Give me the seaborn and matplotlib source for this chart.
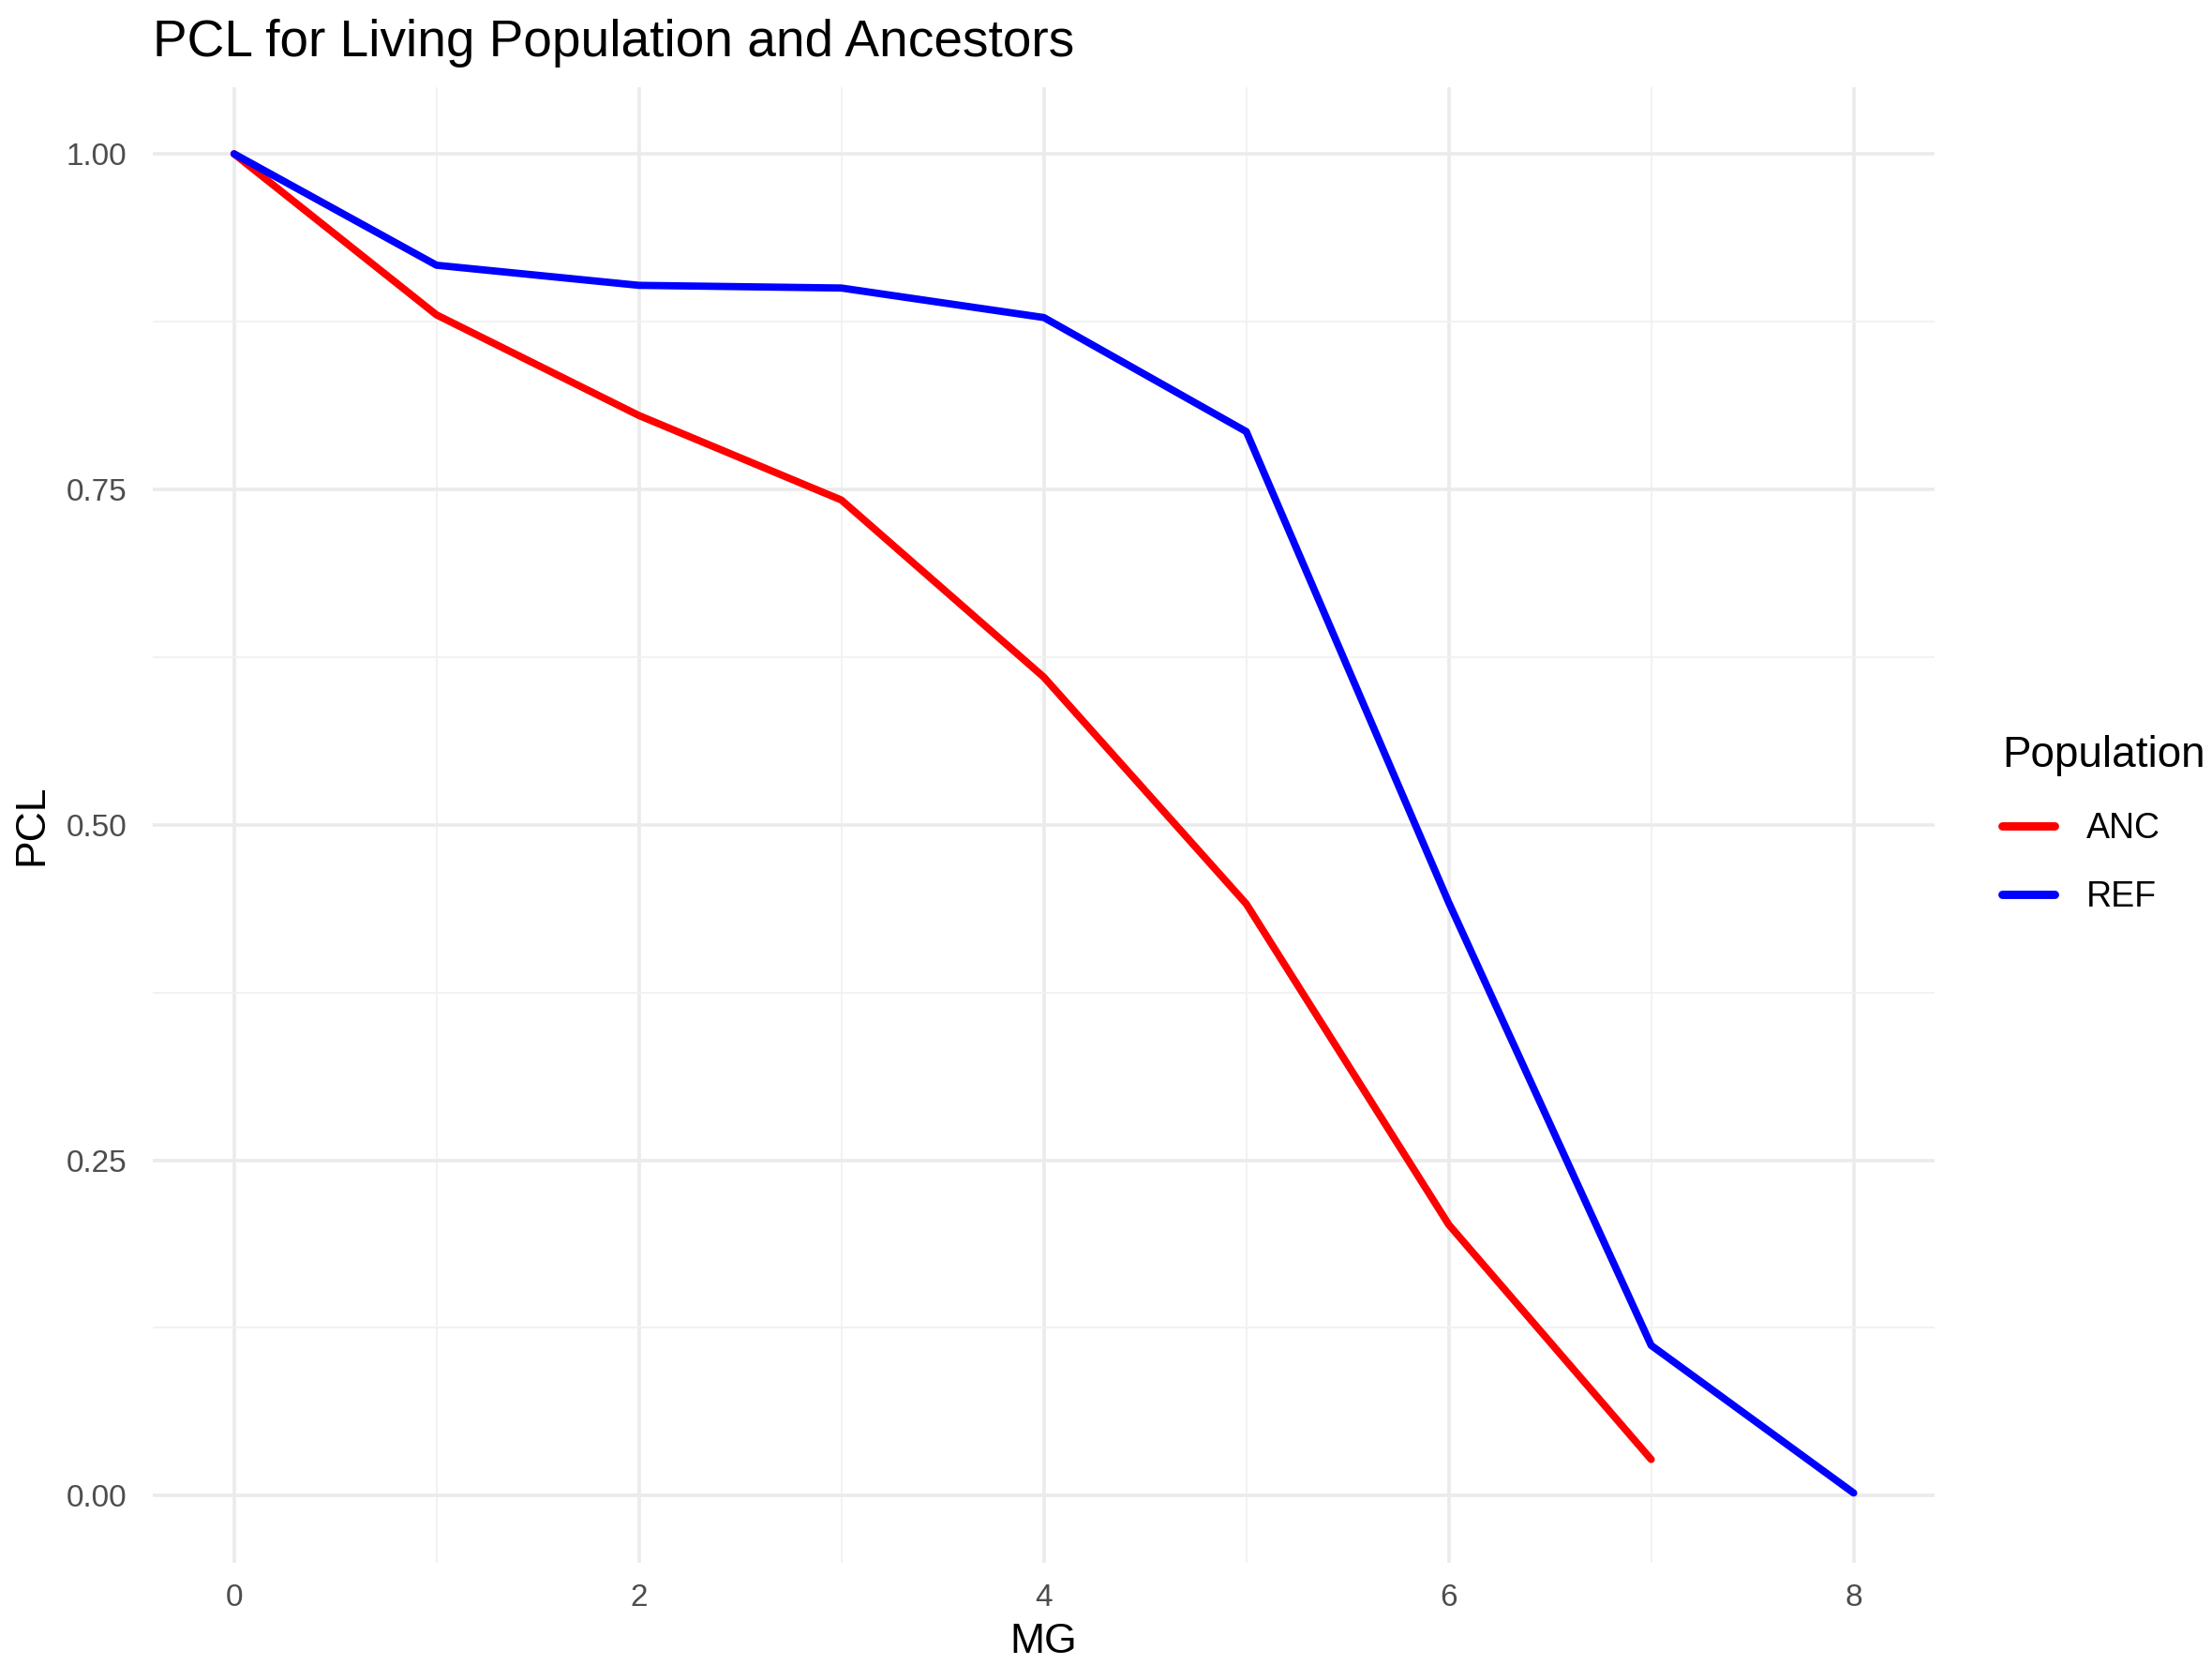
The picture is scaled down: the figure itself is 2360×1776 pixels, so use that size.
import matplotlib
matplotlib.use('Agg')
import matplotlib.pyplot as plt
import seaborn as sns
import pandas as pd
from matplotlib.ticker import MultipleLocator

# values
mg_anc = [0, 1, 2, 3, 4, 5, 6, 7]
pcl_anc = [1.00, 0.880, 0.805, 0.742, 0.610, 0.441, 0.202, 0.027]
mg_ref = [0, 1, 2, 3, 4, 5, 6, 7, 8]
pcl_ref = [1.00, 0.917, 0.902, 0.900, 0.878, 0.793, 0.442, 0.112, 0.002]

df = pd.concat([
    pd.DataFrame({'MG': mg_anc, 'PCL': pcl_anc, 'Population': 'ANC'}),
    pd.DataFrame({'MG': mg_ref, 'PCL': pcl_ref, 'Population': 'REF'}),
])

sns.set_theme(style='white')
plt.rcParams['font.family'] = ['Liberation Sans', 'DejaVu Sans']
plt.rcParams['text.color'] = 'black'
plt.rcParams['axes.labelcolor'] = 'black'

fig = plt.figure(figsize=(11.8, 8.88), dpi=200)
ax = fig.add_axes([0.0692, 0.0614, 0.8054, 0.8865])

# grid like ggplot theme_minimal
ax.xaxis.set_major_locator(MultipleLocator(2))
ax.xaxis.set_minor_locator(MultipleLocator(1))
ax.yaxis.set_major_locator(MultipleLocator(0.25))
ax.yaxis.set_minor_locator(MultipleLocator(0.125))
ax.grid(which='major', color='#EBEBEB', linewidth=1.3)
ax.grid(which='minor', color='#F2F2F2', linewidth=0.7)
ax.set_axisbelow(True)

sns.lineplot(data=df, x='MG', y='PCL', hue='Population',
             palette={'ANC': '#FF0000', 'REF': '#0000FF'},
             linewidth=2.8, ax=ax)

ax.set_xlim(-0.4, 8.4)
ax.set_ylim(-0.05, 1.05)
ax.yaxis.set_major_formatter(matplotlib.ticker.FormatStrFormatter('%.2f'))
for s in ax.spines.values():
    s.set_visible(False)
ax.tick_params(axis='x', which='both', length=0, labelsize=12, labelcolor='#4D4D4D', pad=8)
ax.tick_params(axis='y', which='both', length=0, labelsize=12, labelcolor='#4D4D4D', pad=10)
ax.set_xlabel('MG', fontsize=16, labelpad=4)
ax.set_ylabel('PCL', fontsize=16, labelpad=6)

fig.text(0.069, 0.966, 'PCL for Living Population and Ancestors',
         fontsize=19.8, ha='left', va='baseline')

leg = ax.legend(title='Population', loc='center left', bbox_to_anchor=(1.03, 0.5),
                frameon=False, fontsize=13.5, title_fontsize=16.5,
                handlelength=1.5, handletextpad=0.9, labelspacing=1.0,
                borderaxespad=0)
leg._legend_box.align = 'left'
for line in leg.get_lines():
    line.set_linewidth(3.2)

fig.savefig('out.png', dpi=200)
